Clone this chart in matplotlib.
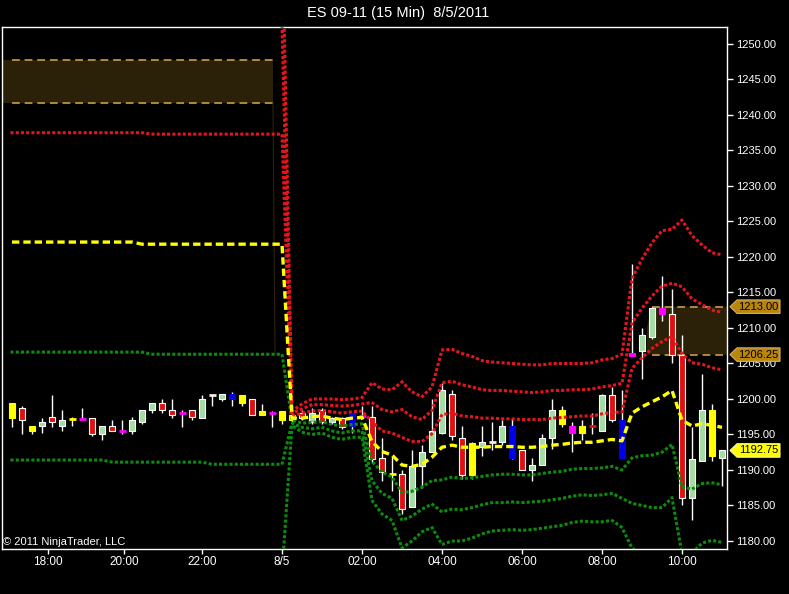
import matplotlib.pyplot as plt
import matplotlib.transforms as mtransforms
from matplotlib.patches import Polygon, Rectangle
import numpy as np

plt.rcParams["font.family"] = ["Liberation Sans", "DejaVu Sans"]

# 15 min bars, ES 09-11, previous evening session then 8/5 session
bar_color = ["Y", "R", "Y", "G", "R", "G", "Y", "M", "R", "G",
             "R", "M", "G", "G", "G", "R", "R", "M", "R", "G",
             "W", "G", "B", "Y", "R", "Y", "M", "Y", "Y", "R",
             "G", "R", "G", "R", "B", "M", "R", "R", "Y", "R",
             "G", "G", "G", "G", "R", "R", "Y", "G", "W", "G",
             "B", "R", "G", "G", "G", "Y", "M", "Y", "R", "G",
             "R", "B", "M", "G", "G", "M", "R", "R", "G", "G",
             "Y", "G"]
opens = [1199.50, 1198.75, 1196.25, 1196.25, 1197.50, 1196.25, 1197.00, 1197.25, 1197.25, 1195.00,
         1196.25, 1195.50, 1195.50, 1196.75, 1198.50, 1199.50, 1198.50, 1198.00, 1198.50, 1197.25,
         1200.50, 1200.00, 1200.00, 1200.50, 1200.00, 1198.25, 1198.00, 1198.25, 1197.75, 1198.00,
         1196.75, 1198.50, 1196.75, 1197.25, 1198.00, 1197.75, 1197.50, 1191.75, 1189.50, 1189.50,
         1184.75, 1190.50, 1192.50, 1195.25, 1200.75, 1194.50, 1193.75, 1193.25, 1194.00, 1194.00,
         1196.25, 1192.75, 1190.00, 1190.75, 1194.50, 1198.50, 1196.25, 1196.25, 1196.25, 1195.50,
         1200.50, 1197.00, 1206.50, 1206.75, 1208.75, 1212.75, 1212.00, 1206.25, 1186.00, 1191.25,
         1198.50, 1191.75]
highs = [1199.50, 1199.00, 1196.25, 1197.25, 1200.50, 1198.50, 1197.50, 1198.75, 1197.25, 1196.25,
         1197.00, 1197.00, 1197.50, 1198.50, 1199.50, 1200.00, 1200.00, 1198.50, 1198.50, 1200.50,
         1200.50, 1200.75, 1201.00, 1200.50, 1200.00, 1199.25, 1198.25, 1198.25, 1198.25, 1198.50,
         1198.75, 1198.75, 1197.50, 1197.50, 1198.00, 1199.00, 1199.00, 1194.50, 1192.00, 1190.00,
         1192.75, 1193.50, 1200.00, 1202.25, 1201.25, 1196.25, 1194.00, 1196.25, 1196.75, 1197.00,
         1197.25, 1192.75, 1191.75, 1195.00, 1200.00, 1199.00, 1196.75, 1197.00, 1198.00, 1200.75,
         1201.75, 1201.25, 1219.00, 1210.00, 1213.00, 1217.25, 1215.50, 1209.00, 1196.00, 1203.50,
         1199.25, 1192.75]
lows = [1196.00, 1195.00, 1195.00, 1195.25, 1196.00, 1195.50, 1196.25, 1197.00, 1194.75, 1194.25,
        1195.50, 1195.00, 1195.00, 1196.50, 1198.00, 1198.00, 1197.25, 1196.00, 1197.00, 1197.25,
        1199.00, 1199.75, 1199.00, 1199.00, 1197.75, 1197.75, 1196.00, 1196.50, 1196.75, 1197.00,
        1196.50, 1196.50, 1196.50, 1195.75, 1195.25, 1197.50, 1191.00, 1188.50, 1187.00, 1183.75,
        1184.75, 1187.50, 1192.50, 1195.00, 1194.25, 1188.75, 1188.75, 1192.00, 1192.75, 1193.50,
        1191.50, 1190.00, 1188.50, 1190.75, 1193.00, 1196.00, 1192.50, 1194.25, 1195.00, 1195.50,
        1196.75, 1191.75, 1206.00, 1202.75, 1208.50, 1211.00, 1205.00, 1185.00, 1183.00, 1191.25,
        1191.25, 1187.75]
closes = [1197.25, 1197.00, 1195.50, 1196.75, 1196.75, 1197.00, 1197.25, 1197.00, 1195.00, 1196.25,
          1195.50, 1195.50, 1197.00, 1198.50, 1199.50, 1198.50, 1197.75, 1198.00, 1197.50, 1200.00,
          1200.50, 1200.75, 1200.75, 1199.50, 1197.75, 1197.75, 1198.00, 1197.00, 1197.00, 1197.25,
          1198.00, 1196.75, 1197.25, 1196.00, 1196.25, 1197.50, 1191.50, 1189.75, 1189.50, 1184.50,
          1190.50, 1192.50, 1195.50, 1201.25, 1194.75, 1189.25, 1189.25, 1194.00, 1194.00, 1196.25,
          1191.75, 1190.00, 1190.75, 1194.50, 1198.50, 1196.50, 1195.25, 1195.25, 1196.00, 1200.50,
          1197.00, 1191.75, 1206.00, 1209.00, 1212.75, 1212.00, 1206.25, 1186.00, 1191.50, 1198.50,
          1192.00, 1192.75]

# VWAP and standard deviation bands (first 28 bars: prior session)
vwap = [1222.1] * 13 + [1221.8] * 15 + [
    1197.3, 1197.3, 1197.5, 1197.6, 1197.3, 1197.1, 1197.3, 1197.4,
    1194.0, 1192.6, 1192.1, 1190.7, 1190.5, 1190.8, 1191.8,
    1193.2, 1193.5, 1193.2, 1193.2, 1193.2, 1193.3, 1193.3, 1193.3, 1193.2, 1193.2,
    1193.3, 1193.5, 1193.6, 1193.8, 1193.9, 1193.9, 1194.1, 1194.3, 1194.1,
    1198.0, 1198.9, 1199.6, 1200.3, 1201.2, 1197.0, 1196.2, 1196.5, 1196.3, 1196.0]
up1 = [1237.5] * 14 + [1237.3] * 14 + [
    1197.6, 1198.0, 1198.3, 1198.4, 1198.2, 1198.0, 1198.2, 1198.3,
    1196.8, 1195.5, 1195.2, 1194.6, 1194.0, 1194.0, 1195.1,
    1197.8, 1198.0, 1197.6, 1197.5, 1197.3, 1197.3, 1197.2, 1197.2, 1197.1, 1197.1,
    1197.1, 1197.3, 1197.4, 1197.5, 1197.6, 1197.6, 1197.9, 1198.1, 1198.2,
    1204.3, 1205.8, 1207.1, 1208.1, 1208.8, 1206.4, 1205.1, 1204.9, 1204.4, 1204.1]
up2 = [1253.0] * 13 + [1252.7] * 15 + [
    1198.0, 1198.6, 1199.2, 1199.2, 1199.1, 1199.0, 1199.1, 1199.3,
    1199.5, 1198.5, 1198.2, 1198.5, 1197.5, 1197.1, 1198.4,
    1202.3, 1202.5, 1202.0, 1201.7, 1201.3, 1201.2, 1201.2, 1201.1, 1201.0, 1200.9,
    1201.0, 1201.2, 1201.2, 1201.3, 1201.3, 1201.4, 1201.7, 1201.9, 1202.2,
    1210.7, 1212.8, 1214.5, 1215.9, 1216.3, 1215.8, 1214.1, 1213.3, 1212.5, 1212.2]
up3 = [1268.5] * 13 + [1268.0] * 15 + [
    1198.3, 1199.3, 1200.0, 1200.0, 1200.0, 1199.9, 1200.0, 1200.2,
    1202.3, 1201.4, 1201.3, 1202.4, 1201.0, 1200.3, 1201.7,
    1206.9, 1207.0, 1206.4, 1206.0, 1205.4, 1205.2, 1205.1, 1205.0, 1204.9, 1204.8,
    1204.8, 1205.0, 1205.0, 1205.0, 1205.0, 1205.1, 1205.5, 1205.7, 1206.3,
    1217.0, 1219.7, 1222.0, 1223.7, 1223.9, 1225.2, 1223.0, 1221.7, 1220.6, 1220.3]
dn1 = [1206.6] * 14 + [1206.3] * 14 + [
    1197.0, 1196.6, 1196.7, 1196.8, 1196.4, 1196.2, 1196.4, 1196.5,
    1191.2, 1189.7, 1189.0, 1186.8, 1187.0, 1187.6, 1188.5,
    1188.6, 1189.0, 1188.8, 1188.9, 1189.1, 1189.3, 1189.4, 1189.4, 1189.3, 1189.3,
    1189.5, 1189.7, 1189.8, 1190.1, 1190.2, 1190.2, 1190.3, 1190.5, 1190.0,
    1191.7, 1192.0, 1192.1, 1192.5, 1193.6, 1187.6, 1187.3, 1188.1, 1188.2, 1187.9]
dn2 = [1191.4] * 10 + [1191.1] * 10 + [1190.8] * 8 + [
    1196.6, 1196.0, 1195.8, 1196.0, 1195.5, 1195.2, 1195.5, 1195.5,
    1188.5, 1186.7, 1186.0, 1182.9, 1183.5, 1184.5, 1185.2,
    1184.1, 1184.5, 1184.4, 1184.7, 1185.1, 1185.4, 1185.4, 1185.5, 1185.4, 1185.5,
    1185.6, 1185.8, 1186.0, 1186.3, 1186.5, 1186.4, 1186.5, 1186.7, 1186.0,
    1185.3, 1185.0, 1184.7, 1184.7, 1186.1, 1178.2, 1178.3, 1179.7, 1180.1, 1179.8]
dn3 = [1175.8] * 13 + [1175.3] * 15 + [
    1196.3, 1195.3, 1195.0, 1195.2, 1194.6, 1194.3, 1194.6, 1194.6,
    1185.7, 1183.8, 1182.9, 1179.0, 1180.0, 1181.3, 1181.9,
    1179.5, 1180.0, 1180.0, 1180.4, 1181.0, 1181.4, 1181.5, 1181.6, 1181.5, 1181.6,
    1181.8, 1182.0, 1182.2, 1182.6, 1182.8, 1182.7, 1182.7, 1182.9, 1181.9,
    1179.0, 1178.1, 1177.2, 1176.9, 1178.5, 1168.8, 1169.4, 1171.3, 1172.0, 1171.7]

# supply / demand zones
zone1_low, zone1_high, zone1_end = 1241.75, 1247.75, 26.1
zone2_low, zone2_high, zone2_start = 1206.25, 1213.00, 63.5
last_price = closes[-1]

time_ticks = [3.6, 11.2, 19.0, 27.0, 35.0, 43.0, 51.0, 59.0, 67.0]
time_labels = ["18:00", "20:00", "22:00", "8/5", "02:00", "04:00", "06:00", "08:00", "10:00"]

fill = {"R": "#e01010", "G": "#a4dca4", "Y": "#ffff00", "B": "#0000e8",
        "M": "#ff00ff", "W": "#f4f0d8"}
red = "#e8141c"
green = "#0c8c0c"
zone_fill = "#2b2008"
zone_edge = "#b08a3c"

fig = plt.figure(figsize=(7.89, 5.94), dpi=100, facecolor="black")
ax = fig.add_axes([2 / 789, 1 - 548.5 / 594, 725 / 789, 521.5 / 594])
ax.set_facecolor("black")
xmin, xmax = -1.0, 71.5
ax.set_xlim(xmin, xmax)
ax.set_ylim(1178.94, 1252.39)

# zones
ax.fill_between([xmin, zone1_end], zone1_low, zone1_high, color=zone_fill, lw=0, zorder=0)
ax.hlines([zone1_low, zone1_high], 0, zone1_end, colors=zone_edge, lw=1.4,
          linestyles=(0, (4, 2.5)), zorder=1)
ax.plot([zone1_end, zone1_end + 0.2], [zone1_low, dn1[27]], color="#2e220c", lw=0.8, zorder=0)
ax.add_patch(Polygon([(zone2_start + 0.6, zone2_high), (zone2_start, zone2_high - 2.8),
                      (zone2_start, zone2_low), (xmax, zone2_low), (xmax, zone2_high)],
                     closed=True, facecolor=zone_fill, lw=0, zorder=0))
ax.hlines([zone2_low, zone2_high], zone2_start + 0.5, 71.1, colors=zone_edge, lw=1.4,
          linestyles=(0, (4, 2.5)), zorder=1)

# candles
xs = np.arange(len(opens))
ax.vlines(xs, lows, highs, color="white", lw=1, zorder=2)
for i in range(len(opens)):
    o, c, col = opens[i], closes[i], bar_color[i]
    lo, hi = min(o, c), max(o, c)
    if hi - lo < 0.3:
        ax.hlines((o + c) / 2, i - 0.35, i + 0.35, color=fill[col], lw=2, zorder=3)
    else:
        edge = "white" if col in ("R", "G") else fill[col]
        ax.add_patch(Rectangle((i - 0.3, lo), 0.6, hi - lo, facecolor=fill[col],
                               edgecolor=edge, lw=0.8, zorder=3))

# bands
dots = (0, (0.01, 1.7))
for band in (dn1, dn2, dn3):
    ax.plot(xs, band, color=green, lw=2.2, ls=dots, dash_capstyle="projecting", zorder=4)
for band in (up1, up2, up3):
    ax.plot(xs, band, color=red, lw=2.2, ls=dots, dash_capstyle="projecting", zorder=4)
ax.plot(xs, vwap, color="#ffff00", lw=2.4, ls=(0, (2.2, 1.2)), zorder=5)

# axes styling
for s in ax.spines.values():
    s.set_color("white")
    s.set_linewidth(1)
ax.yaxis.tick_right()
ax.set_yticks(np.arange(1180, 1251, 5))
ax.set_yticklabels([f"{v:.2f}" for v in np.arange(1180, 1251, 5)])
ax.tick_params(axis="y", colors="white", direction="out", length=4, width=1, pad=2.5,
               labelsize=8)
ax.set_xticks(time_ticks)
ax.set_xticklabels(time_labels, fontfamily=["Liberation Sans Narrow", "Liberation Sans"],
                   fontsize=8.5)
ax.tick_params(axis="x", colors="white", direction="out", length=3.5, width=1, pad=2)

# price tags on the right
trans = mtransforms.blended_transform_factory(ax.transAxes, ax.transData)
x0, x1, x2 = 1 + 3 / 725, 1 + 10 / 725, 1 + 53 / 725
for p, face, edge in ((zone2_high, "#b8860b", "#d8b060"),
                      (zone2_low, "#b8860b", "#d8b060"),
                      (last_price, "#ffff00", "#fff8a0")):
    h = 0.95
    ax.add_patch(Polygon([(x0, p), (x1, p + h), (x2, p + h), (x2, p - h), (x1, p - h)],
                         closed=True, transform=trans, facecolor=face, edgecolor=edge,
                         lw=0.8, clip_on=False, zorder=10))
    ax.text((x1 + x2) / 2, p, f"{p:.2f}", transform=trans, ha="center", va="center",
            color="black", fontsize=8, clip_on=False, zorder=11)

ax.text(0.0014, 0.0125, "\u00a9 2011 NinjaTrader, LLC", transform=ax.transAxes,
        color="white", fontsize=8, ha="left", va="center", zorder=6)
fig.text(0.505, 1 - 13 / 594, "ES 09-11 (15 Min)  8/5/2011", color="white",
         fontsize=10.5, ha="center", va="center")

fig.savefig("out.png", dpi=100, facecolor="black")
